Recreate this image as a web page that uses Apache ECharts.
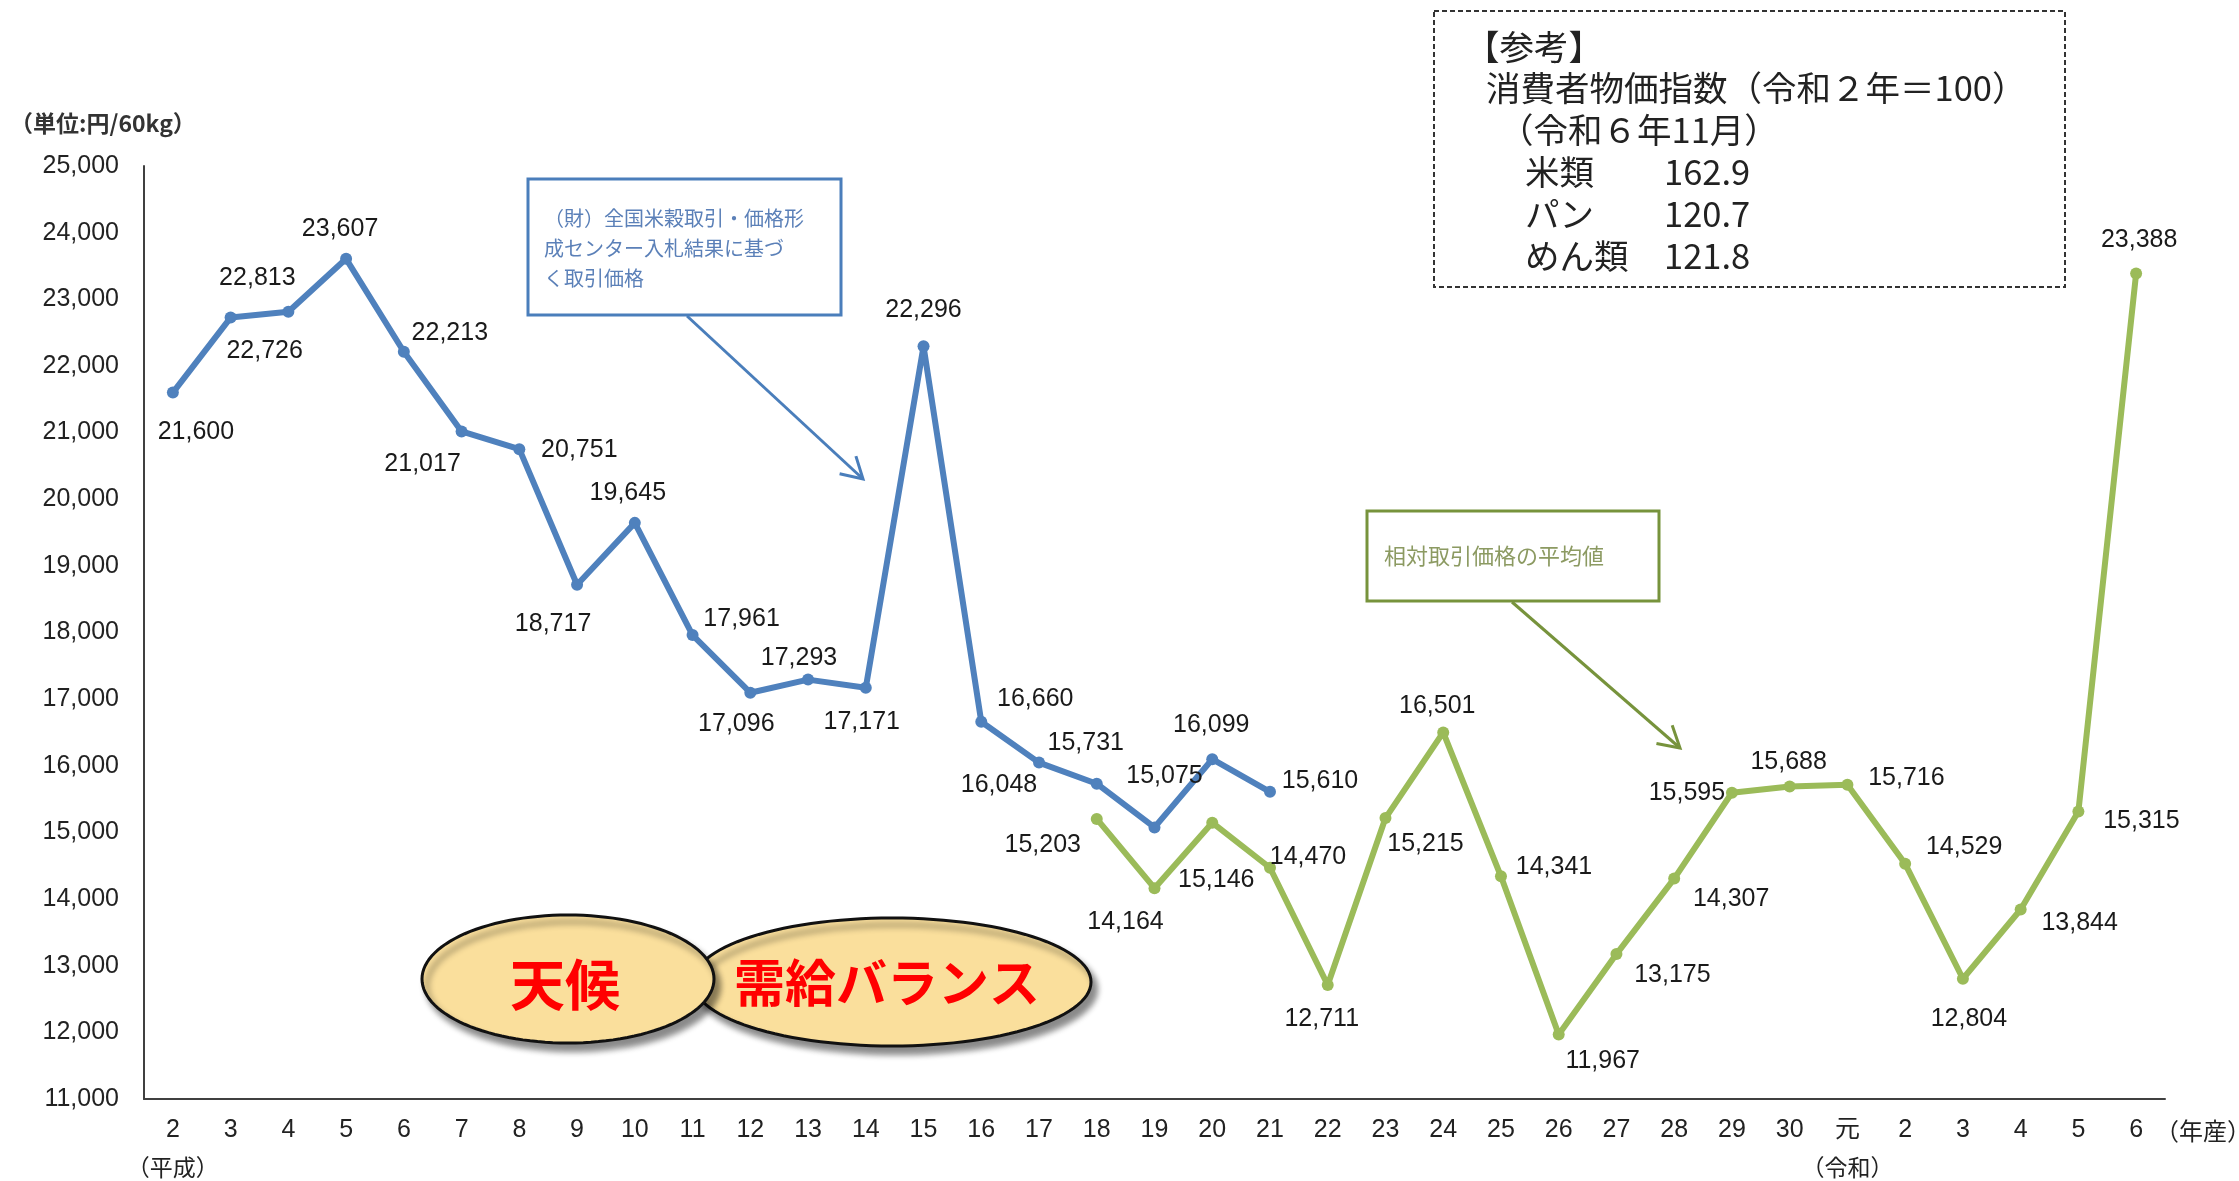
<!DOCTYPE html>
<html><head><meta charset="utf-8">
<script src="https://cdn.jsdelivr.net/npm/echarts@6/dist/echarts.min.js"></script>
<style>html,body{margin:0;padding:0;background:#fff}#c{width:2239px;height:1181px}</style>
</head><body><div id="c"></div>
<script>
// ---- data ----
const categories = ['2','3','4','5','6','7','8','9','10','11','12','13','14','15','16','17','18','19','20','21','22','23','24','25','26','27','28','29','30','元','2','3','4','5','6'];
const eraNotes = {0: '（平成）', 29: '（令和）'};
// (財)全国米穀取引・価格形成センター入札結果に基づく取引価格 : 平成2〜21年産
const blueValues = [21600,22726,22813,23607,22213,21017,20751,18717,19645,17961,17096,17293,17171,22296,16660,16048,15731,15075,16099,15610];
const blueStartIndex = 0;
// 相対取引価格の平均値 : 平成18年産〜令和6年産
const greenValues = [15203,14164,15146,14470,12711,15215,16501,14341,11967,13175,14307,15595,15688,15716,14529,12804,13844,15315,23388];
const greenStartIndex = 16;
const yMin = 11000, yMax = 25000, yStep = 1000;
const refTitle = '【参考】';
const refLines = ['消費者物価指数（令和２年＝100）', '（令和６年11月）'];
const refItems = ['米類', 'パン', 'めん類'];
const refValues = ['162.9', '120.7', '121.8'];

// ---- label placement (layout only) ----
const blueLabelOffset = [[23,40],[34,34],[-31,-34],[-6,-30],[46,-19],[-39,33],[60,1],[-24,39],[-7,-30],[49,-16],[-14,31],[-9,-22],[-4,34],[0,-36],[54,-23],[-40,23],[-11,-41],[10,-51],[-1,-34],[50,-11]];
const greenLabelOffset = [[-54,26],[-29,34],[4,57],[38,-11],[-6,34],[40,26],[-6,-26],[53,-9],[44,27],[56,21],[57,20],[-45,0],[-1,-24],[59,-7],[59,-17],[6,40],[59,14],[63,10],[3,-33]];

function fmt(v){ return String(v).replace(/\B(?=(\d{3})+(?!\d))/g, ','); }
function buildSeriesData(values, start, offsets){
  return categories.map((c, i) => {
    const k = i - start;
    if (k < 0 || k >= values.length) return '-';
    return { value: values[k], label: { offset: offsets[k] } };
  });
}
function ellipse(cx, cy, rx, ry){
  const pts = [];
  for (let a = 0; a < 360; a += 3) {
    const t = a * Math.PI / 180;
    pts.push([cx + rx * Math.cos(t), cy + ry * Math.sin(t)]);
  }
  return pts;
}
function arrow(x1, y1, x2, y2, color){
  const dx = x2 - x1, dy = y2 - y1, L = Math.hypot(dx, dy);
  const ux = -dx / L, uy = -dy / L, h = 24, c = Math.cos(Math.PI/6), s = Math.sin(Math.PI/6);
  const p1 = [x2 + h*(c*ux - s*uy), y2 + h*(s*ux + c*uy)];
  const p2 = [x2 + h*(c*ux + s*uy), y2 + h*(-s*ux + c*uy)];
  return [
    { type: 'line', shape: { x1, y1, x2, y2 }, style: { stroke: color, lineWidth: 3 } },
    { type: 'polyline', shape: { points: [p1, [x2, y2], p2] }, style: { stroke: color, lineWidth: 3, fill: null } }
  ];
}

const numFont = '"Liberation Sans", Arial, sans-serif';
const cjkFont = '"Noto Sans CJK JP", sans-serif';
const labelStyle = { show: true, position: 'inside', fontSize: 25, color: '#1a1a1a', fontFamily: numFont, formatter: p => fmt(p.value) };

const chart = echarts.init(document.getElementById('c'));
const graphics = [];
// unit label
graphics.push({ type: 'text', x: 10, y: 123, style: { text: '（単位:円/60kg）', font: 'bold 23px ' + cjkFont, fill: '#333', verticalAlign: 'middle' } });
// x axis suffix
graphics.push({ type: 'text', x: 2155, y: 1131, style: { text: '（年産）', font: '24px ' + cjkFont, fill: '#222', verticalAlign: 'middle' } });
// reference box
graphics.push({ type: 'rect', shape: { x: 1434, y: 11, width: 631, height: 276 }, style: { fill: '#fff', stroke: '#333', lineWidth: 2, lineDash: [5, 3] } });
const refFont = '34.5px ' + cjkFont;
graphics.push({ type: 'text', x: 1465, y: 47, style: { text: refTitle, font: refFont, fill: '#222', verticalAlign: 'middle' } });
graphics.push({ type: 'text', x: 1486, y: 88, style: { text: refLines[0], font: refFont, fill: '#222', verticalAlign: 'middle' } });
graphics.push({ type: 'text', x: 1499, y: 130, style: { text: refLines[1], font: refFont, fill: '#222', verticalAlign: 'middle' } });
refItems.forEach((t, i) => {
  graphics.push({ type: 'text', x: 1525, y: 172 + i * 42, style: { text: t, font: refFont, fill: '#222', verticalAlign: 'middle' } });
  graphics.push({ type: 'text', x: 1664, y: 172 + i * 42, style: { text: refValues[i], font: refFont, fill: '#222', verticalAlign: 'middle' } });
});
// blue note box
graphics.push({ type: 'rect', shape: { x: 528, y: 179, width: 313, height: 136 }, style: { fill: '#fff', stroke: '#4a7ebb', lineWidth: 3 } });
['（財）全国米穀取引・価格形', '成センター入札結果に基づ', 'く取引価格'].forEach((t, i) => {
  graphics.push({ type: 'text', x: 544, y: 218 + i * 30, style: { text: t, font: '20px ' + cjkFont, fill: '#5b80b8', verticalAlign: 'middle' } });
});
graphics.push(...arrow(687, 316, 863, 479, '#4a7ebb'));
// green note box
graphics.push({ type: 'rect', shape: { x: 1367, y: 511, width: 292, height: 90 }, style: { fill: '#fff', stroke: '#77933c', lineWidth: 3 } });
graphics.push({ type: 'text', x: 1384, y: 556, style: { text: '相対取引価格の平均値', font: '22px ' + cjkFont, fill: '#8c9a62', verticalAlign: 'middle' } });
graphics.push(...arrow(1512, 602, 1680, 748, '#77933c'));
// ellipses
const ellStyle = { fill: '#fadf9c', stroke: '#111', lineWidth: 3, shadowBlur: 6, shadowOffsetX: 5, shadowOffsetY: 7, shadowColor: 'rgba(0,0,0,0.45)' };
graphics.push({ type: 'polygon', shape: { points: ellipse(892, 982, 199, 64) }, style: ellStyle });
graphics.push({ type: 'polygon', shape: { points: ellipse(568, 979, 146, 64) }, style: ellStyle });
graphics.push({ type: 'text', x: 565, y: 984, style: { text: '天候', font: 'bold 55px ' + cjkFont, fill: '#ff0000', align: 'center', verticalAlign: 'middle' } });
graphics.push({ type: 'text', x: 887, y: 983, style: { text: '需給バランス', font: 'bold 51px ' + cjkFont, fill: '#ff0000', align: 'center', verticalAlign: 'middle' } });

chart.setOption({
  animation: false,
  backgroundColor: '#fff',
  grid: { left: 144, right: 74, top: 166, bottom: 82, containLabel: false },
  xAxis: {
    type: 'category', data: categories, boundaryGap: true,
    axisLine: { lineStyle: { color: '#404040', width: 2 } },
    axisTick: { show: false },
    axisLabel: {
      margin: 13, interval: 0,
      formatter: (v, i) => eraNotes[i] ? '{n|' + v + '}\n{e|' + eraNotes[i] + '}' : '{n|' + v + '}',
      rich: {
        n: { fontSize: 25, lineHeight: 37, color: '#222', fontFamily: '"Liberation Sans", "Noto Sans CJK JP", sans-serif' },
        e: { fontSize: 23, lineHeight: 37, color: '#222', fontFamily: cjkFont }
      }
    }
  },
  yAxis: {
    type: 'value', min: yMin, max: yMax, interval: yStep,
    axisLine: { show: true, lineStyle: { color: '#404040', width: 2 } },
    axisTick: { show: false },
    splitLine: { show: false },
    axisLabel: { fontSize: 25, color: '#222', margin: 25, fontFamily: numFont, formatter: v => fmt(v) }
  },
  series: [
    { type: 'line', data: buildSeriesData(blueValues, blueStartIndex, blueLabelOffset), connectNulls: false,
      lineStyle: { color: '#4f81bd', width: 6 }, itemStyle: { color: '#4f81bd' }, symbol: 'circle', symbolSize: 12, label: labelStyle, z: 3 },
    { type: 'line', data: buildSeriesData(greenValues, greenStartIndex, greenLabelOffset), connectNulls: false,
      lineStyle: { color: '#9bbb59', width: 6 }, itemStyle: { color: '#9bbb59' }, symbol: 'circle', symbolSize: 12, label: labelStyle, z: 2 }
  ],
  graphic: { elements: graphics }
});
</script></body></html>
